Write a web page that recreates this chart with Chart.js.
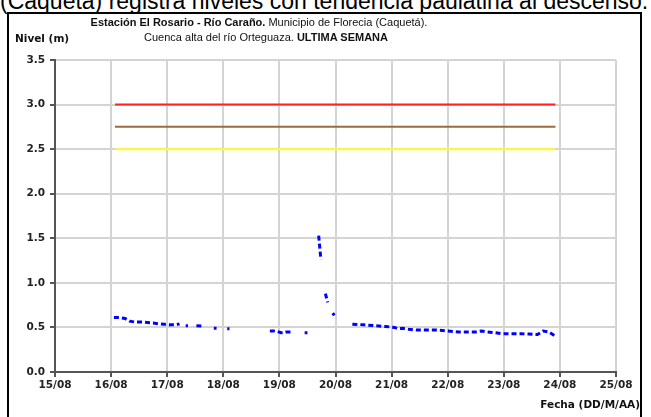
<!DOCTYPE html>
<html>
<head>
<meta charset="utf-8">
<script src="https://cdn.jsdelivr.net/npm/chart.js@4"></script>
<style>
  body { margin: 0; background: #fff; font-family: "Liberation Sans", Arial, sans-serif; }
  #wrap { position: relative; width: 651px; height: 417px; overflow: hidden; }
  #frame { position: absolute; left: 7px; top: 12px; width: 635px; height: 420px; border: 2px solid #000; box-sizing: border-box; }
  #above { position: absolute; left: 0; top: -10px; font-size: 23px; line-height: 1; white-space: nowrap; color: #000; }
  .lbl { position: absolute; font-size: 11px; color: #111; white-space: nowrap; }
  .ax { font-family: "DejaVu Sans", sans-serif; font-size: 10.5px; font-weight: bold; }
  .b { font-weight: bold; }
  #chart { position: absolute; left: 0; top: 0; }
</style>
</head>
<body>
<div id="wrap">
  <div id="above">(Caquetá) registra niveles con tendencia paulatina al descenso.</div>
  <div id="frame"></div>
  <canvas id="chart" width="651" height="417"></canvas>
  <div class="lbl" style="left:259px; top:16px; transform:translateX(-50%);"><span class="b">Estación El Rosario - Río Caraño.</span> Municipio de Florecia (Caquetá).</div>
  <div class="lbl" style="left:266px; top:31px; transform:translateX(-50%);">Cuenca alta del río Orteguaza. <span class="b">ULTIMA SEMANA</span></div>
  <div class="lbl ax" style="left:15px; top:32px;">Nivel (m)</div>
  <div class="lbl ax" style="right:11px; top:398px;">Fecha (DD/M/AA)</div>
</div>
<script>
// days of August (decimal), null = gap in the record
const times = [
  16.05, 16.15, 16.25, 16.33, 16.43, 16.55, 16.65, 16.75, 16.85, 16.95, 17.05, 17.15, 17.22, null,
  17.33, 17.37, null, 17.52, 17.62, null, 17.83, 17.88, null, 18.07, 18.11, null,
  18.83, 18.9, 18.96, 19.03, 19.08, 19.13, 19.2, null, 19.45, 19.5, null,
  19.70, 19.74, null, 19.82, 19.86, null, 19.95, 19.98, null,
  20.3, 20.5, 20.7, 20.9, 21.05, 21.12, 21.2, 21.3, 21.45, 21.6, 21.8, 22.0, 22.2, 22.4,
  22.5, 22.6, 22.7, 22.85, 22.95, 23.1, 23.3, 23.45, 23.6, 23.7, 23.8, 23.9
];
const levels = [
  0.61, 0.61, 0.60, 0.57, 0.56, 0.56, 0.555, 0.55, 0.54, 0.535, 0.53, 0.53, 0.54, null,
  0.52, 0.52, null, 0.52, 0.515, null, 0.49, 0.49, null, 0.485, 0.485, null,
  0.46, 0.46, 0.455, 0.44, 0.44, 0.45, 0.45, null, 0.44, 0.44, null,
  1.53, 1.26, null, 0.88, 0.78, null, 0.66, 0.635, null,
  0.535, 0.53, 0.52, 0.51, 0.50, 0.485, 0.49, 0.48, 0.47, 0.47, 0.47, 0.46, 0.45, 0.45,
  0.45, 0.46, 0.45, 0.44, 0.43, 0.43, 0.43, 0.425, 0.42, 0.46, 0.45, 0.41
];
const thresholdStart = 16.07;
const thresholdEnd = 23.92;
const thresholdRed = 3.0;
const thresholdBrown = 2.75;
const thresholdYellow = 2.5;
const xTicks = [15, 16, 17, 18, 19, 20, 21, 22, 23, 24, 25];
const yTicks = [0, 0.5, 1, 1.5, 2, 2.5, 3, 3.5];

function thresholdData(v) {
  return [{ x: thresholdStart, y: v }, { x: thresholdEnd, y: v }];
}

const seriesData = times.map(function(t, i) {
  return t === null ? { x: null, y: null } : { x: t, y: levels[i] };
});

const tickFont = { family: 'DejaVu Sans', size: 10.5, weight: 'bold' };

new Chart(document.getElementById('chart'), {
  type: 'line',
  data: {
    datasets: [
      { data: thresholdData(thresholdRed), borderColor: '#ff2020', borderWidth: 2, pointRadius: 0 },
      { data: thresholdData(thresholdBrown), borderColor: '#9c6a3e', borderWidth: 2, pointRadius: 0 },
      { data: thresholdData(thresholdYellow), borderColor: '#ffff20', borderWidth: 2, pointRadius: 0 },
      { data: seriesData, borderColor: '#0000ff', borderWidth: 3, borderDash: [5, 3], pointRadius: 0, spanGaps: false }
    ]
  },
  options: {
    responsive: false,
    animation: false,
    layout: { padding: { left: 0, top: 60, right: 35, bottom: 0 } },
    plugins: { legend: { display: false }, tooltip: { enabled: false } },
    scales: {
      x: {
        type: 'linear',
        min: 15,
        max: 25,
        afterBuildTicks: function(scale) { scale.ticks = xTicks.map(function(v) { return { value: v }; }); },
        afterFit: function(scale) { scale.height = 45; },
        ticks: {
          font: tickFont,
          color: '#222',
          padding: 2,
          maxRotation: 0,
          callback: function(v) { return v + '/08'; }
        },
        grid: { color: '#d4d4d4', lineWidth: 2, tickLength: 5, tickColor: '#555' },
        border: { color: '#555', width: 2 }
      },
      y: {
        min: 0,
        max: 3.5,
        afterBuildTicks: function(scale) { scale.ticks = yTicks.map(function(v) { return { value: v }; }); },
        afterFit: function(scale) { scale.width = 55; },
        ticks: {
          font: tickFont,
          color: '#222',
          padding: 5,
          callback: function(v) { return v.toFixed(1); }
        },
        grid: { color: '#d4d4d4', lineWidth: 2, tickLength: 5, tickColor: '#555' },
        border: { color: '#555', width: 2 }
      }
    }
  }
});
</script>
</body>
</html>
